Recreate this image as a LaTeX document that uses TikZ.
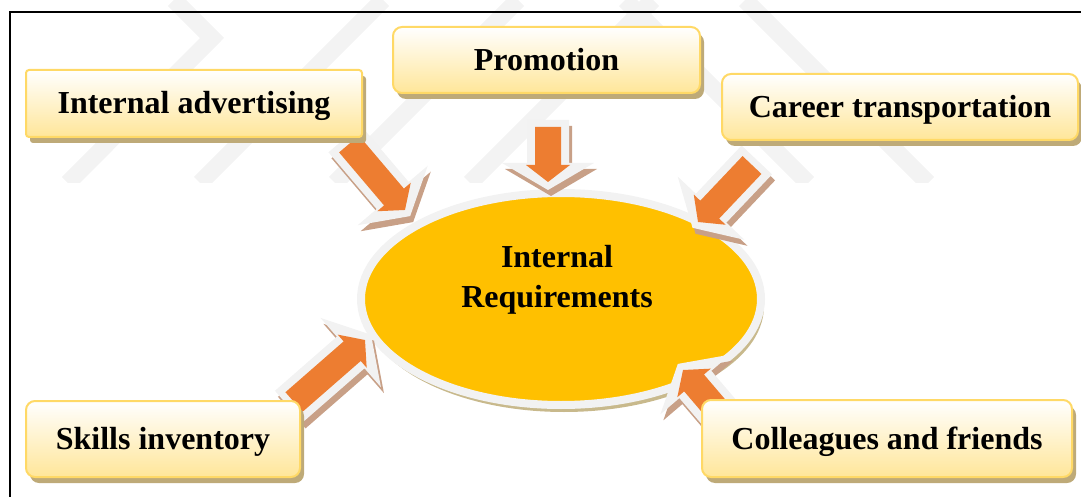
\documentclass[tikz,border=0pt]{standalone}
\usepackage{fontspec}
\setmainfont{Liberation Serif}
\usetikzlibrary{positioning,calc,shapes,shadows}

\definecolor{boxedge}{RGB}{255,217,102}
\definecolor{boxlow}{RGB}{255,230,153}
\definecolor{boxshade}{RGB}{190,170,120}
\definecolor{reqfill}{RGB}{255,192,0}
\definecolor{reqedge}{RGB}{242,242,242}
\definecolor{ringshade}{RGB}{200,185,140}
\definecolor{arrfill}{RGB}{237,125,49}
\definecolor{arredge}{RGB}{242,242,242}
\definecolor{arrshade}{RGB}{200,160,135}
\definecolor{wmark}{RGB}{243,243,243}

% block arrow from tail coordinate #1 to tip coordinate #2
\newcommand{\blockarrow}[2]{%
  \path let \p1=($(#2)-(#1)$), \n1={atan2(\y1,\x1)}, \n2={veclen(\x1,\y1)} in
    \pgfextra{\pgfmathparse{\n1}\xdef\arrang{\pgfmathresult}\pgfmathparse{\n2}\xdef\arrlen{\pgfmathresult}};
  \fill[arrshade,shift={(#1)},xshift=3pt,yshift=-6pt,rotate=\arrang]
    (-7,21) -- (\arrlen-19,21) -- (\arrlen-19,46) -- (\arrlen+8,0) -- (\arrlen-19,-46) -- (\arrlen-19,-21) -- (-7,-21) -- cycle;
  \fill[arredge,shift={(#1)},rotate=\arrang]
    (-7,21) -- (\arrlen-19,21) -- (\arrlen-19,46) -- (\arrlen+8,0) -- (\arrlen-19,-46) -- (\arrlen-19,-21) -- (-7,-21) -- cycle;
  \fill[arrfill,shift={(#1)},rotate=\arrang]
    (0,13) -- (\arrlen-17,13) -- (\arrlen-17,22) -- (\arrlen,0) -- (\arrlen-17,-22) -- (\arrlen-17,-13) -- (0,-13) -- cycle;
}

\begin{document}
\begin{tikzpicture}[x=1pt,y=-1pt]
    \tikzstyle{every node}=[inner sep=0]
    \tikzstyle{item}=[rectangle,draw=boxedge,line width=2,rounded corners=9,top color=white,bottom color=boxlow,
        minimum height=66,text height=21,text depth=0,font=\fontsize{32}{38}\selectfont\bfseries,
        drop shadow={shadow xshift=4pt,shadow yshift=-6pt,fill=boxshade,opacity=1}]
    \tikzstyle{core}=[ellipse,draw=reqedge,line width=8,fill=reqfill,minimum width=400,minimum height=212,
        drop shadow={shadow xshift=3pt,shadow yshift=-7pt,fill=ringshade,opacity=1}]
    \tikzstyle{band}=[wmark,line width=17]
    \useasboundingbox (0,0) rectangle (1081,497);

    \begin{scope}
        \clip (0,0) rectangle (1081,183);
        \draw[band] (68,183) -- (212,38) -- (174,0);
        \foreach \bx in {200,335,470}
            \draw[band] (\bx,183) -- ++(183,-183);
        \draw[band] (625,0) -- ++(183,183);
        \draw[band] (745,0) -- ++(183,183);
    \end{scope}

    \draw[line width=2.6] (10,497) -- (10,12) -- (1081,12);

    \node[core] (req) at (561,299) {};
    \node[align=center,font=\fontsize{32}{40}\selectfont\bfseries] (reqtext) at (557,280) {Internal\\Requirements};

    \coordinate (t1) at (349,144); \coordinate (h1) at (405,210);
    \coordinate (t2) at (548,127); \coordinate (h2) at (548,182);
    \coordinate (t3) at (752,165); \coordinate (h3) at (698,222);
    \coordinate (t4) at (294,402); \coordinate (h4) at (365,340);
    \coordinate (t5) at (718,411); \coordinate (h5) at (683,370);
    \blockarrow{t1}{h1}
    \blockarrow{t2}{h2}
    \blockarrow{t3}{h3}
    \blockarrow{t4}{h4}
    \blockarrow{t5}{h5}

    \node[item,rounded corners=3,minimum width=336,minimum height=67] (adv) at (194,103.5) {Internal advertising};
    \node[item,minimum width=307] (promo) at (546.5,60) {Promotion};
    \node[item,minimum width=356] (career) at (900,107) {Career transportation};
    \node[item,minimum width=274,minimum height=76] (skills) at (163,439) {Skills inventory};
    \node[item,minimum width=370,minimum height=77] (friends) at (887,438.5) {Colleagues and friends};
\end{tikzpicture}
\end{document}
